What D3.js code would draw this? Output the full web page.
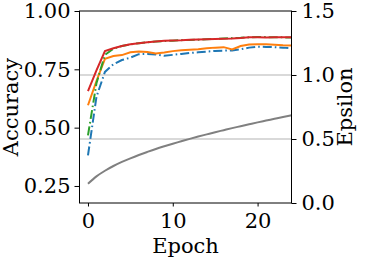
<!DOCTYPE html>
<html>
<head>
<meta charset="utf-8">
<script src="https://cdn.jsdelivr.net/npm/d3@7"></script>
<style>
  body { margin: 0; background: #fff; }
  svg text { font-family: "DejaVu Serif", serif; }
</style>
</head>
<body>
<div id="chart"></div>
<script>
// epochs 0..24
const epochs = d3.range(0, 25);

// accuracy curves (left axis)
const accBlue = [0.381, 0.632, 0.739, 0.772, 0.790, 0.800, 0.815, 0.816, 0.814, 0.808, 0.812, 0.816, 0.820,
  0.823, 0.826, 0.829, 0.830, 0.831, 0.836, 0.843, 0.847, 0.846, 0.845, 0.843, 0.840];
const accOrange = [0.596, 0.700, 0.795, 0.807, 0.811, 0.823, 0.826, 0.824, 0.818, 0.822, 0.828, 0.832, 0.834,
  0.836, 0.840, 0.843, 0.845, 0.835, 0.850, 0.856, 0.858, 0.857, 0.855, 0.853, 0.852];
const accGreen = [0.467, 0.690, 0.812, 0.838, 0.850, 0.857, 0.862, 0.866, 0.869, 0.871, 0.873, 0.875, 0.876,
  0.877, 0.879, 0.880, 0.882, 0.884, 0.885, 0.887, 0.889, 0.888, 0.887, 0.887, 0.886];
const accRed = [0.657, 0.745, 0.828, 0.840, 0.850, 0.857, 0.862, 0.866, 0.869, 0.872, 0.874, 0.875, 0.877,
  0.878, 0.879, 0.880, 0.881, 0.882, 0.884, 0.887, 0.887, 0.886, 0.887, 0.888, 0.887];

// privacy budget (right axis)
const epsilon = [0.150, 0.208, 0.252, 0.289, 0.321, 0.349, 0.375, 0.399, 0.422, 0.443, 0.463, 0.482, 0.501,
  0.519, 0.536, 0.553, 0.569, 0.585, 0.600, 0.615, 0.630, 0.644, 0.658, 0.672, 0.685];

const xTicks = [0, 10, 20];
const accTicks = [0.25, 0.50, 0.75, 1.00];
const epsTicks = [0.0, 0.5, 1.0, 1.5];
const epsGrid = [0.5, 1.0];

const width = 371, height = 266;
const plot = { left: 79.5, right: 291.5, top: 11, bottom: 203 };

const svg = d3.select("#chart").append("svg")
  .attr("width", width)
  .attr("height", height);

const x = d3.scaleLinear().domain([-1, 24]).range([plot.left, plot.right]);
const yAcc = d3.scaleLinear().domain([0.177, 1.0]).range([plot.bottom, plot.top]);
const yEps = d3.scaleLinear().domain([0, 1.5]).range([plot.bottom, plot.top]);

// grid from the right axis
svg.append("g")
  .selectAll("line")
  .data(epsGrid)
  .enter().append("line")
  .attr("x1", plot.left).attr("x2", plot.right)
  .attr("y1", d => yEps(d)).attr("y2", d => yEps(d))
  .attr("stroke", "#cccccc")
  .attr("stroke-width", 1.5);

svg.append("clipPath").attr("id", "clip")
  .append("rect")
  .attr("x", plot.left).attr("y", plot.top)
  .attr("width", plot.right - plot.left).attr("height", plot.bottom - plot.top);

const g = svg.append("g").attr("clip-path", "url(#clip)");

const lineAcc = d3.line().x((d, i) => x(epochs[i])).y(d => yAcc(d));
const lineEps = d3.line().x((d, i) => x(epochs[i])).y(d => yEps(d)).curve(d3.curveMonotoneX);

g.append("path").datum(epsilon)
  .attr("d", lineEps).attr("fill", "none")
  .attr("stroke", "#808080").attr("stroke-width", 2);

const series = [
  { data: accBlue, color: "#1f77b4", dash: "9,3,1.6,3" },
  { data: accOrange, color: "#ff7f0e", dash: null },
  { data: accGreen, color: "#2ca02c", dash: "9,3,1.6,3" },
  { data: accRed, color: "#d62728", dash: null }
];

series.forEach(s => {
  g.append("path").datum(s.data)
    .attr("d", lineAcc).attr("fill", "none")
    .attr("stroke", s.color).attr("stroke-width", 2)
    .attr("stroke-dasharray", s.dash);
});

// axes
const fs = "21px";

const xAxis = svg.append("g")
  .attr("transform", `translate(0,${plot.bottom})`)
  .call(d3.axisBottom(x).tickValues(xTicks).tickSize(3.5).tickPadding(7).tickFormat(d3.format("d")));

const leftAxis = svg.append("g")
  .attr("transform", `translate(${plot.left},0)`)
  .call(d3.axisLeft(yAcc).tickValues(accTicks).tickSize(5).tickPadding(4).tickFormat(d3.format(".2f")));

const rightAxis = svg.append("g")
  .attr("transform", `translate(${plot.right},0)`)
  .call(d3.axisRight(yEps).tickValues(epsTicks).tickSize(5).tickPadding(5).tickFormat(d3.format(".1f")));

[xAxis, leftAxis, rightAxis].forEach(a => {
  a.select(".domain").remove();
  a.selectAll("text").style("font-size", fs).attr("fill", "#000");
  a.selectAll(".tick line").attr("stroke", "#000").attr("stroke-width", 1);
});

// frame
svg.append("rect")
  .attr("x", plot.left).attr("y", plot.top)
  .attr("width", plot.right - plot.left).attr("height", plot.bottom - plot.top)
  .attr("fill", "none").attr("stroke", "#000").attr("stroke-width", 1);

// axis titles
svg.append("text")
  .attr("transform", `translate(${(plot.left + plot.right) / 2},253)`)
  .attr("text-anchor", "middle")
  .style("font-size", fs)
  .text("Epoch");

svg.append("text")
  .attr("transform", `translate(17.5,${(plot.top + plot.bottom) / 2}) rotate(-90)`)
  .attr("text-anchor", "middle")
  .style("font-size", fs)
  .text("Accuracy");

svg.append("text")
  .attr("transform", `translate(339,${(plot.top + plot.bottom) / 2}) rotate(-90)`)
  .attr("text-anchor", "middle")
  .style("font-size", fs)
  .attr("dy", "0.62em")
  .text("Epsilon");
</script>
</body>
</html>
